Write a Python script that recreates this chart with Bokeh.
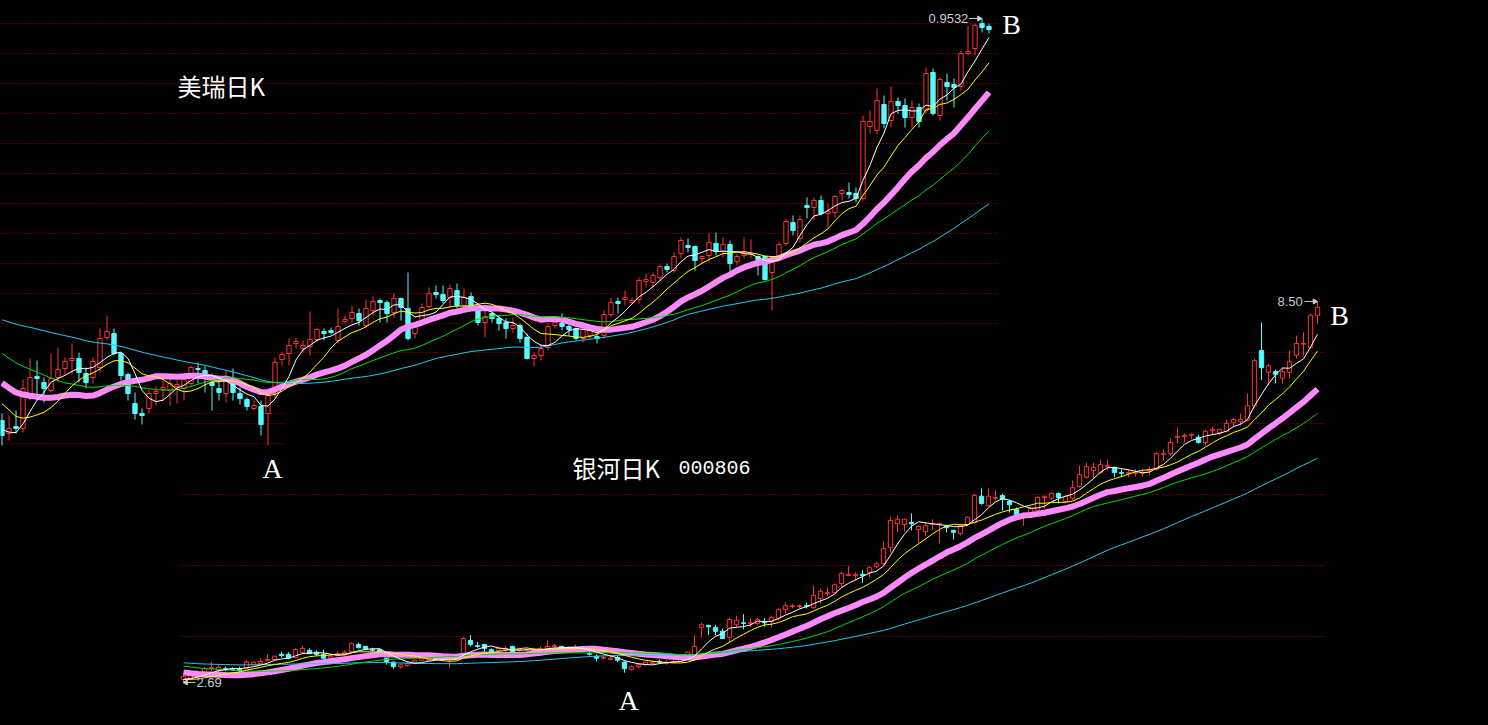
import numpy as np
import pandas as pd
from bokeh.plotting import figure
from bokeh.models import Range1d, Label, ColumnDataSource
from bokeh.embed import file_html
from bokeh.resources import INLINE

# ======================= DATA =======================
top_name = "美瑞日K"
bot_name = "银河日K"
bot_code = "000806"

# closes before the first visible candle (only used to warm up the moving averages)
top_prior_close = [
    0.8122, 0.8142, 0.8162, 0.8172, 0.8192, 0.8212, 0.8232, 0.8247, 0.8262, 0.8272,
    0.8282, 0.8272, 0.8257, 0.8242, 0.8227, 0.8212, 0.8197, 0.8187, 0.8172, 0.8162,
    0.8152, 0.8127, 0.8142, 0.8157, 0.8162, 0.8167, 0.8172, 0.8162, 0.8152, 0.8142,
    0.8182, 0.8192, 0.8197, 0.8187, 0.8172, 0.8162, 0.8152, 0.8162, 0.8162, 0.8152,
    0.7997, 0.7972, 0.7932, 0.7897, 0.7862, 0.7822, 0.7782, 0.7732, 0.7697, 0.7677,
    0.7762, 0.7782, 0.7812, 0.7772, 0.7682, 0.7622, 0.7547, 0.7497, 0.7462, 0.7432]

top_open = [
    0.7522, 0.7457, 0.7492, 0.7482, 0.7647, 0.7742, 0.7712, 0.7672, 0.7737, 0.7782,
    0.7822, 0.7832, 0.7757, 0.7737, 0.7787, 0.7937, 0.7957, 0.7857, 0.7752, 0.7607,
    0.7557, 0.7582, 0.7657, 0.7677, 0.7672, 0.7692, 0.7682, 0.7707, 0.7782, 0.7772,
    0.7712, 0.7682, 0.7657, 0.7707, 0.7657, 0.7627, 0.7582, 0.7592, 0.7557, 0.7657,
    0.7827, 0.7857, 0.7907, 0.7882, 0.7892, 0.7927, 0.7967, 0.7972, 0.7922, 0.8017,
    0.8032, 0.8057, 0.7997, 0.8072, 0.8122, 0.8112, 0.8062, 0.8132, 0.8082, 0.7957,
    0.8012, 0.8092, 0.8162, 0.8152, 0.8137, 0.8172, 0.8097, 0.8142, 0.8072, 0.8012,
    0.8057, 0.8032, 0.8012, 0.7982, 0.7997, 0.7937, 0.7832, 0.7847, 0.7887, 0.7997,
    0.8007, 0.7992, 0.7982, 0.7932, 0.7947, 0.7942, 0.7947, 0.8052, 0.8117, 0.8127,
    0.8112, 0.8127, 0.8217, 0.8212, 0.8237, 0.8292, 0.8272, 0.8357, 0.8397, 0.8392,
    0.8332, 0.8347, 0.8407, 0.8367, 0.8402, 0.8317, 0.8347, 0.8352, 0.8342, 0.8342,
    0.8262, 0.8347, 0.8407, 0.8512, 0.8432, 0.8597, 0.8587, 0.8622, 0.8557, 0.8562,
    0.8657, 0.8662, 0.8657, 0.8632, 0.8992, 0.8972, 0.9102, 0.9022, 0.9117, 0.9097,
    0.9037, 0.9087, 0.9072, 0.9262, 0.9047, 0.9212, 0.9202, 0.9192, 0.9357, 0.9382,
    0.9507, 0.9492]
top_high = [
    0.7557, 0.7547, 0.7572, 0.7727, 0.7832, 0.7822, 0.7737, 0.7857, 0.7887, 0.7837,
    0.7907, 0.7862, 0.7787, 0.7837, 0.7982, 0.8047, 0.7982, 0.7862, 0.7762, 0.7662,
    0.7582, 0.7677, 0.7692, 0.7722, 0.7742, 0.7722, 0.7762, 0.7797, 0.7812, 0.7792,
    0.7757, 0.7732, 0.7772, 0.7782, 0.7687, 0.7637, 0.7622, 0.7622, 0.7657, 0.7837,
    0.7862, 0.7932, 0.7932, 0.7922, 0.8067, 0.7987, 0.7982, 0.7987, 0.8082, 0.8047,
    0.8097, 0.8082, 0.8127, 0.8142, 0.8132, 0.8122, 0.8157, 0.8137, 0.8262, 0.8012,
    0.8107, 0.8187, 0.8197, 0.8197, 0.8202, 0.8207, 0.8182, 0.8162, 0.8097, 0.8087,
    0.8062, 0.8047, 0.8032, 0.8037, 0.8007, 0.7957, 0.7862, 0.7907, 0.8007, 0.8032,
    0.8057, 0.8007, 0.7987, 0.7987, 0.7987, 0.7957, 0.8072, 0.8137, 0.8137, 0.8172,
    0.8137, 0.8237, 0.8257, 0.8262, 0.8302, 0.8307, 0.8362, 0.8437, 0.8432, 0.8397,
    0.8347, 0.8457, 0.8462, 0.8437, 0.8422, 0.8357, 0.8437, 0.8427, 0.8347, 0.8347,
    0.8342, 0.8417, 0.8532, 0.8547, 0.8547, 0.8637, 0.8637, 0.8647, 0.8607, 0.8647,
    0.8682, 0.8712, 0.8687, 0.9047, 0.9072, 0.9182, 0.9147, 0.9192, 0.9137, 0.9132,
    0.9122, 0.9107, 0.9287, 0.9282, 0.9237, 0.9257, 0.9232, 0.9372, 0.9497, 0.9507,
    0.9532, 0.9507]
top_low = [
    0.7397, 0.7422, 0.7457, 0.7462, 0.7622, 0.7622, 0.7612, 0.7662, 0.7712, 0.7752,
    0.7752, 0.7712, 0.7682, 0.7707, 0.7762, 0.7922, 0.7847, 0.7722, 0.7622, 0.7527,
    0.7502, 0.7557, 0.7597, 0.7622, 0.7597, 0.7607, 0.7622, 0.7697, 0.7707, 0.7662,
    0.7572, 0.7622, 0.7612, 0.7622, 0.7602, 0.7572, 0.7572, 0.7447, 0.7397, 0.7637,
    0.7797, 0.7797, 0.7882, 0.7862, 0.7847, 0.7912, 0.7922, 0.7952, 0.7907, 0.8007,
    0.8007, 0.7997, 0.7987, 0.8047, 0.8012, 0.8012, 0.8037, 0.8022, 0.7922, 0.7932,
    0.7997, 0.8082, 0.8132, 0.8107, 0.8087, 0.8082, 0.8087, 0.8087, 0.7997, 0.7937,
    0.8012, 0.7972, 0.7932, 0.7957, 0.7912, 0.7827, 0.7792, 0.7822, 0.7872, 0.7982,
    0.7972, 0.7947, 0.7922, 0.7912, 0.7932, 0.7907, 0.7932, 0.8037, 0.8057, 0.8097,
    0.8102, 0.8107, 0.8187, 0.8187, 0.8222, 0.8262, 0.8262, 0.8332, 0.8362, 0.8272,
    0.8307, 0.8312, 0.8347, 0.8337, 0.8262, 0.8297, 0.8332, 0.8332, 0.8247, 0.8222,
    0.8072, 0.8322, 0.8397, 0.8447, 0.8412, 0.8532, 0.8522, 0.8547, 0.8487, 0.8537,
    0.8622, 0.8632, 0.8612, 0.8622, 0.8957, 0.8952, 0.8982, 0.8987, 0.9057, 0.8987,
    0.8987, 0.8987, 0.9057, 0.9047, 0.9022, 0.9122, 0.9087, 0.9172, 0.9347, 0.9347,
    0.9462, 0.9457]
top_close = [
    0.7447, 0.7482, 0.7482, 0.7682, 0.7737, 0.7732, 0.7682, 0.7732, 0.7777, 0.7817,
    0.7832, 0.7762, 0.7712, 0.7817, 0.7932, 0.7967, 0.7857, 0.7747, 0.7657, 0.7557,
    0.7547, 0.7657, 0.7667, 0.7687, 0.7707, 0.7702, 0.7727, 0.7787, 0.7777, 0.7747,
    0.7697, 0.7662, 0.7722, 0.7662, 0.7632, 0.7592, 0.7597, 0.7502, 0.7647, 0.7812,
    0.7852, 0.7897, 0.7917, 0.7897, 0.7927, 0.7977, 0.7957, 0.7962, 0.7992, 0.8027,
    0.8062, 0.8022, 0.8082, 0.8117, 0.8112, 0.8057, 0.8132, 0.8087, 0.7932, 0.7992,
    0.8087, 0.8157, 0.8152, 0.8122, 0.8182, 0.8097, 0.8137, 0.8097, 0.8012, 0.8042,
    0.8032, 0.8007, 0.7982, 0.7997, 0.7932, 0.7832, 0.7847, 0.7882, 0.7992, 0.8012,
    0.7992, 0.7977, 0.7932, 0.7977, 0.7982, 0.7932, 0.8052, 0.8112, 0.8107, 0.8137,
    0.8122, 0.8222, 0.8227, 0.8247, 0.8292, 0.8277, 0.8342, 0.8422, 0.8387, 0.8322,
    0.8342, 0.8412, 0.8367, 0.8402, 0.8307, 0.8342, 0.8362, 0.8357, 0.8322, 0.8227,
    0.8322, 0.8402, 0.8517, 0.8472, 0.8527, 0.8587, 0.8622, 0.8557, 0.8567, 0.8642,
    0.8672, 0.8652, 0.8632, 0.9017, 0.9017, 0.9122, 0.9007, 0.9117, 0.9097, 0.9037,
    0.9087, 0.9017, 0.9257, 0.9057, 0.9227, 0.9192, 0.9187, 0.9357, 0.9367, 0.9497,
    0.9487, 0.9477]

bot_prior_close = [
    3.15, 3.18, 3.21, 3.18, 3.13, 3.10, 3.07, 3.03, 3.00, 2.96,
    2.93, 2.90, 2.92, 2.95, 2.98, 3.01, 3.03, 3.06, 3.07, 3.09,
    3.06, 3.03, 3.00, 2.98, 2.96, 3.00, 3.03, 3.06, 3.09, 3.10,
    3.15, 3.18, 3.19, 3.18, 3.15, 3.12, 3.10, 3.09, 3.09, 3.09,
    3.07, 3.06, 3.03, 3.01, 3.00, 2.98, 2.96, 2.93, 2.90, 2.86,
    2.80, 2.77, 2.75, 2.72, 2.72, 2.71, 2.72, 2.72, 2.74, 2.72]

bot_open = [
    2.74, 2.74, 2.83, 2.84, 2.90, 2.87, 2.90, 2.90, 2.90, 2.90,
    2.96, 2.98, 3.03, 3.04, 3.12, 3.12, 3.07, 3.15, 3.18, 3.15,
    3.12, 3.06, 3.10, 3.12, 3.16, 3.27, 3.24, 3.19, 3.19, 3.06,
    3.00, 2.93, 2.95, 3.00, 3.03, 3.03, 3.06, 3.03, 3.03, 3.04,
    3.12, 3.33, 3.25, 3.27, 3.19, 3.18, 3.19, 3.24, 3.18, 3.18,
    3.18, 3.18, 3.19, 3.24, 3.24, 3.19, 3.19, 3.19, 3.13, 3.09,
    3.06, 3.04, 3.07, 3.00, 2.89, 2.93, 2.96, 2.98, 3.01, 2.98,
    3.00, 3.01, 3.10, 3.10, 3.53, 3.56, 3.53, 3.47, 3.38, 3.57,
    3.60, 3.59, 3.59, 3.62, 3.62, 3.67, 3.80, 3.85, 3.85, 3.86,
    3.83, 3.97, 4.05, 4.06, 4.20, 4.32, 4.32, 4.34, 4.37, 4.46,
    4.50, 4.75, 5.11, 5.10, 5.13, 5.02, 4.99, 5.10, 5.10, 5.07,
    5.01, 4.96, 5.10, 5.13, 5.53, 5.39, 5.50, 5.54, 5.45, 5.33,
    5.25, 5.27, 5.31, 5.51, 5.50, 5.57, 5.45, 5.50, 5.68, 5.82,
    5.92, 5.89, 5.98, 5.97, 5.89, 5.88, 5.88, 5.88, 5.92, 5.94,
    6.17, 6.18, 6.43, 6.44, 6.46, 6.43, 6.35, 6.53, 6.50, 6.52,
    6.65, 6.67, 6.69, 6.91, 7.75, 7.42, 7.43, 7.33, 7.42, 7.68,
    7.85, 7.80, 8.29]
bot_high = [
    2.83, 2.84, 2.87, 2.93, 3.00, 2.96, 2.93, 2.92, 2.93, 3.03,
    3.01, 3.06, 3.12, 3.10, 3.16, 3.15, 3.21, 3.25, 3.21, 3.18,
    3.19, 3.12, 3.16, 3.18, 3.30, 3.30, 3.25, 3.22, 3.21, 3.07,
    3.01, 2.98, 3.01, 3.04, 3.07, 3.07, 3.07, 3.07, 3.07, 3.09,
    3.38, 3.41, 3.31, 3.28, 3.21, 3.24, 3.25, 3.25, 3.22, 3.22,
    3.22, 3.24, 3.33, 3.28, 3.25, 3.24, 3.27, 3.21, 3.16, 3.12,
    3.10, 3.09, 3.10, 3.01, 2.95, 2.98, 3.01, 3.03, 3.04, 3.03,
    3.04, 3.07, 3.16, 3.41, 3.60, 3.57, 3.57, 3.51, 3.68, 3.71,
    3.73, 3.67, 3.68, 3.67, 3.71, 3.82, 3.91, 3.89, 3.88, 3.91,
    4.17, 4.12, 4.14, 4.20, 4.38, 4.47, 4.37, 4.40, 4.47, 4.53,
    4.84, 5.22, 5.24, 5.19, 5.27, 5.08, 5.13, 5.18, 5.13, 5.08,
    5.02, 5.11, 5.22, 5.57, 5.65, 5.65, 5.62, 5.57, 5.48, 5.36,
    5.28, 5.37, 5.53, 5.54, 5.59, 5.59, 5.54, 5.77, 6.00, 6.04,
    6.04, 6.09, 6.09, 5.98, 5.94, 5.94, 5.94, 5.95, 5.98, 6.21,
    6.24, 6.41, 6.58, 6.49, 6.49, 6.47, 6.55, 6.59, 6.56, 6.70,
    6.72, 6.79, 7.10, 7.63, 8.18, 7.55, 7.46, 7.49, 7.75, 7.98,
    8.03, 8.32, 8.50]
bot_low = [
    2.69, 2.72, 2.77, 2.83, 2.86, 2.84, 2.86, 2.87, 2.84, 2.89,
    2.95, 2.96, 3.01, 3.03, 3.07, 3.04, 3.06, 3.13, 3.12, 3.09,
    3.04, 3.04, 3.09, 3.10, 3.15, 3.21, 3.18, 3.16, 3.13, 2.96,
    2.90, 2.90, 2.93, 2.98, 3.01, 3.01, 3.03, 3.01, 2.92, 3.03,
    3.10, 3.24, 3.22, 3.16, 3.13, 3.15, 3.15, 3.13, 3.16, 3.16,
    3.15, 3.16, 3.18, 3.22, 3.21, 3.18, 3.18, 3.15, 3.10, 3.01,
    3.04, 3.03, 3.00, 2.84, 2.87, 2.90, 2.95, 2.96, 2.98, 2.96,
    2.98, 3.00, 3.09, 3.07, 3.38, 3.41, 3.41, 3.35, 3.30, 3.53,
    3.50, 3.53, 3.56, 3.54, 3.53, 3.64, 3.74, 3.82, 3.82, 3.82,
    3.82, 3.89, 4.00, 4.05, 4.15, 4.31, 4.25, 4.21, 4.29, 4.43,
    4.49, 4.67, 4.98, 4.99, 5.01, 4.82, 4.93, 5.02, 4.81, 4.98,
    4.87, 4.93, 5.08, 5.11, 5.40, 5.37, 5.47, 5.31, 5.28, 5.18,
    5.08, 5.25, 5.30, 5.34, 5.47, 5.42, 5.42, 5.47, 5.66, 5.80,
    5.79, 5.88, 5.92, 5.82, 5.82, 5.82, 5.83, 5.83, 5.85, 5.92,
    6.08, 6.15, 6.33, 6.35, 6.40, 6.33, 6.30, 6.46, 6.46, 6.50,
    6.59, 6.61, 6.67, 6.88, 7.30, 7.22, 7.25, 7.25, 7.33, 7.63,
    7.68, 7.78, 8.16]
bot_close = [
    2.78, 2.80, 2.80, 2.90, 2.92, 2.92, 2.89, 2.89, 2.87, 3.00,
    3.00, 3.01, 3.04, 3.09, 3.10, 3.06, 3.19, 3.21, 3.13, 3.12,
    3.06, 3.09, 3.13, 3.15, 3.28, 3.22, 3.19, 3.18, 3.15, 3.01,
    2.93, 2.96, 2.98, 3.03, 3.06, 3.04, 3.04, 3.04, 3.04, 3.07,
    3.36, 3.27, 3.24, 3.21, 3.15, 3.21, 3.21, 3.15, 3.19, 3.19,
    3.19, 3.21, 3.24, 3.25, 3.22, 3.21, 3.21, 3.16, 3.12, 3.06,
    3.07, 3.06, 3.03, 2.90, 2.93, 2.96, 3.00, 3.00, 3.00, 3.00,
    3.01, 3.04, 3.15, 3.24, 3.57, 3.54, 3.47, 3.36, 3.65, 3.64,
    3.59, 3.60, 3.65, 3.60, 3.68, 3.80, 3.86, 3.86, 3.86, 3.85,
    4.02, 4.08, 4.06, 4.18, 4.35, 4.34, 4.34, 4.32, 4.44, 4.50,
    4.73, 5.16, 5.18, 5.18, 5.11, 5.07, 5.08, 5.11, 5.11, 5.05,
    4.98, 5.08, 5.21, 5.54, 5.42, 5.53, 5.51, 5.48, 5.40, 5.24,
    5.27, 5.34, 5.51, 5.53, 5.57, 5.51, 5.53, 5.66, 5.86, 5.98,
    5.97, 6.01, 6.00, 5.89, 5.88, 5.89, 5.89, 5.89, 5.94, 6.18,
    6.18, 6.35, 6.44, 6.46, 6.47, 6.35, 6.52, 6.55, 6.55, 6.64,
    6.70, 6.70, 6.91, 7.60, 7.49, 7.52, 7.39, 7.43, 7.58, 7.86,
    7.86, 8.29, 8.41]

ma_windows = [5, 10, 20, 30, 60]

# ======================= STYLE / LAYOUT =======================
UP = "#FF3232"
DN = "#54FCFC"
MA_COLORS = {5: "#FFFFFF", 10: "#FFFF00", 20: "#FF8AFF", 30: "#00DC00", 60: "#22C8EE"}
MA_WIDTHS = {5: 1, 10: 1, 20: 6, 30: 1, 60: 1}
GRID = "#A00000"
LABEL_COL = "#C8CDD8"

# the page template puts the figure at the top-left corner (no body margin)
W, H, M = 1488, 725, 0
# pixel calibration of the two pasted panels (page pixels)
TOP_X0, TOP_DX, TOP_P0, TOP_DP = 1.5, 7.0, 0.9622, 0.0005
BOT_X0, BOT_DX, BOT_P0, BOT_DP = 183.0, 7.0, 13.09, 0.01525


def tx(px):
    return (px - TOP_X0) / TOP_DX


def ty(py):
    return TOP_P0 - TOP_DP * py


def bx(px):
    return (px - BOT_X0) / BOT_DX


def by(py):
    return BOT_P0 - BOT_DP * py


p = figure(width=W, height=H, output_backend="svg", toolbar_location=None,
           x_axis_location=None, y_axis_location=None,
           x_range=Range1d(tx(M), tx(M + W)), y_range=Range1d(ty(M + H), ty(M)),
           min_border=0, background_fill_color="#000000",
           border_fill_color="#000000", outline_line_color=None)
p.extra_x_ranges = {"bx": Range1d(bx(M), bx(M + W))}
p.extra_y_ranges = {"by": Range1d(by(M + H), by(M))}
p.grid.visible = False

# ----- dotted grid rows (page-pixel rows of the two screenshots) -----
top_rows = [(23 + 30 * k, 0, 997) for k in range(11)] + [(413, 0, 283), (443, 0, 283)]
for row, a, b in top_rows:
    p.segment(x0=[tx(a)], y0=[ty(row)], x1=[tx(b)], y1=[ty(row)],
              line_color=GRID, line_width=1, line_dash="1 2")
bot_rows = [(352, 183, 607), (352, 1248, 1325), (423, 183, 283), (423, 1167, 1325),
            (494, 180, 1325), (565, 180, 1325), (636, 180, 1325)]
for row, a, b in bot_rows:
    p.segment(x0=[bx(a)], y0=[by(row)], x1=[bx(b)], y1=[by(row)],
              line_color=GRID, line_width=1, line_dash="1 2",
              x_range_name="bx", y_range_name="by")


def draw_panel(o, h, l, c, prior, xr, yr):
    o, h, l, c = (np.asarray(v, dtype=float) for v in (o, h, l, c))
    idx = np.arange(len(o))
    up = c >= o
    src = ColumnDataSource(dict(
        x=idx, h=h, l=l,
        top=np.maximum(o, c), bot=np.minimum(o, c),
        col=np.where(up, UP, DN), fill=np.where(up, "#000000", DN)))
    kw = dict(x_range_name=xr, y_range_name=yr)
    p.segment(x0="x", y0="l", x1="x", y1="h", line_color="col", line_width=1,
              source=src, **kw)
    p.vbar(x="x", width=0.62, top="top", bottom="bot", fill_color="fill",
           line_color="col", line_width=1, source=src, **kw)
    full = pd.Series(list(prior) + list(c))
    for n in [20, 60, 30, 10, 5]:
        m = full.rolling(n, min_periods=1).mean().to_numpy()[len(prior):]
        p.line(idx, m, line_color=MA_COLORS[n], line_width=MA_WIDTHS[n], **kw)
    return idx


draw_panel(top_open, top_high, top_low, top_close, top_prior_close, "default", "default")
draw_panel(bot_open, bot_high, bot_low, bot_close, bot_prior_close, "bx", "by")


def price_tag(i, val, text, side, xr, yr, fmt_off):
    kw = dict(x_range_name=xr, y_range_name=yr)
    if side == "left":
        p.segment(x0=[i - 1.85], y0=[val], x1=[i - 0.15], y1=[val], line_color=LABEL_COL, line_width=1, **kw)
        p.scatter([i - 0.4], [val], marker="triangle", size=5, angle=-np.pi / 2,
                  fill_color=LABEL_COL, line_color=LABEL_COL, **kw)
        p.add_layout(Label(x=i - fmt_off, y=val, text=text, text_align="right",
                           text_baseline="middle", text_color=LABEL_COL,
                           text_font="Liberation Sans", text_font_size="13px", **kw))
    else:
        p.segment(x0=[i + 0.1], y0=[val], x1=[i + 1.7], y1=[val], line_color=LABEL_COL, line_width=1, **kw)
        p.scatter([i + 0.35], [val], marker="triangle", size=5, angle=np.pi / 2,
                  fill_color=LABEL_COL, line_color=LABEL_COL, **kw)
        p.add_layout(Label(x=i + fmt_off, y=val, text=text, text_align="left",
                           text_baseline="middle", text_color=LABEL_COL,
                           text_font="Liberation Sans", text_font_size="13px", **kw))


ti = int(np.argmax(top_high))
price_tag(ti, top_high[ti], f"{top_high[ti]:.4f}", "left", "default", "default", 1.95)
bi = int(np.argmax(bot_high))
price_tag(bi, bot_high[bi], f"{bot_high[bi]:.2f}", "left", "bx", "by", 2.1)
bl = int(np.argmin(bot_low))
price_tag(bl, bot_low[bl], f"{bot_low[bl]:.2f}", "right", "bx", "by", 1.85)


# ----- titles and A/B marks -----
def page_label(text, px, py, font, size, align="left"):
    p.add_layout(Label(x=tx(px), y=ty(py), text=text, text_align=align,
                       text_baseline="middle", text_color="#FFFFFF",
                       text_font=font, text_font_size=size))


page_label(top_name, 177, 85, "Noto Sans CJK SC", "24px")
page_label(bot_name, 572, 467, "Noto Sans CJK SC", "24px")
page_label(bot_code, 678, 467, "Liberation Mono", "20px")
page_label("A", 272, 468, "Liberation Serif", "28px", "center")
page_label("A", 628, 700, "Liberation Serif", "28px", "center")
page_label("B", 1011, 24, "Liberation Serif", "28px", "center")
page_label("B", 1339, 315, "Liberation Serif", "28px", "center")

html = file_html(p, INLINE, title="美瑞日K / 银河日K")
html = html.replace(
    "</head>",
    "<style>html,body{background:#000000;margin:0;padding:0;overflow:hidden;}</style></head>", 1)
open("out.html", "w").write(html)
